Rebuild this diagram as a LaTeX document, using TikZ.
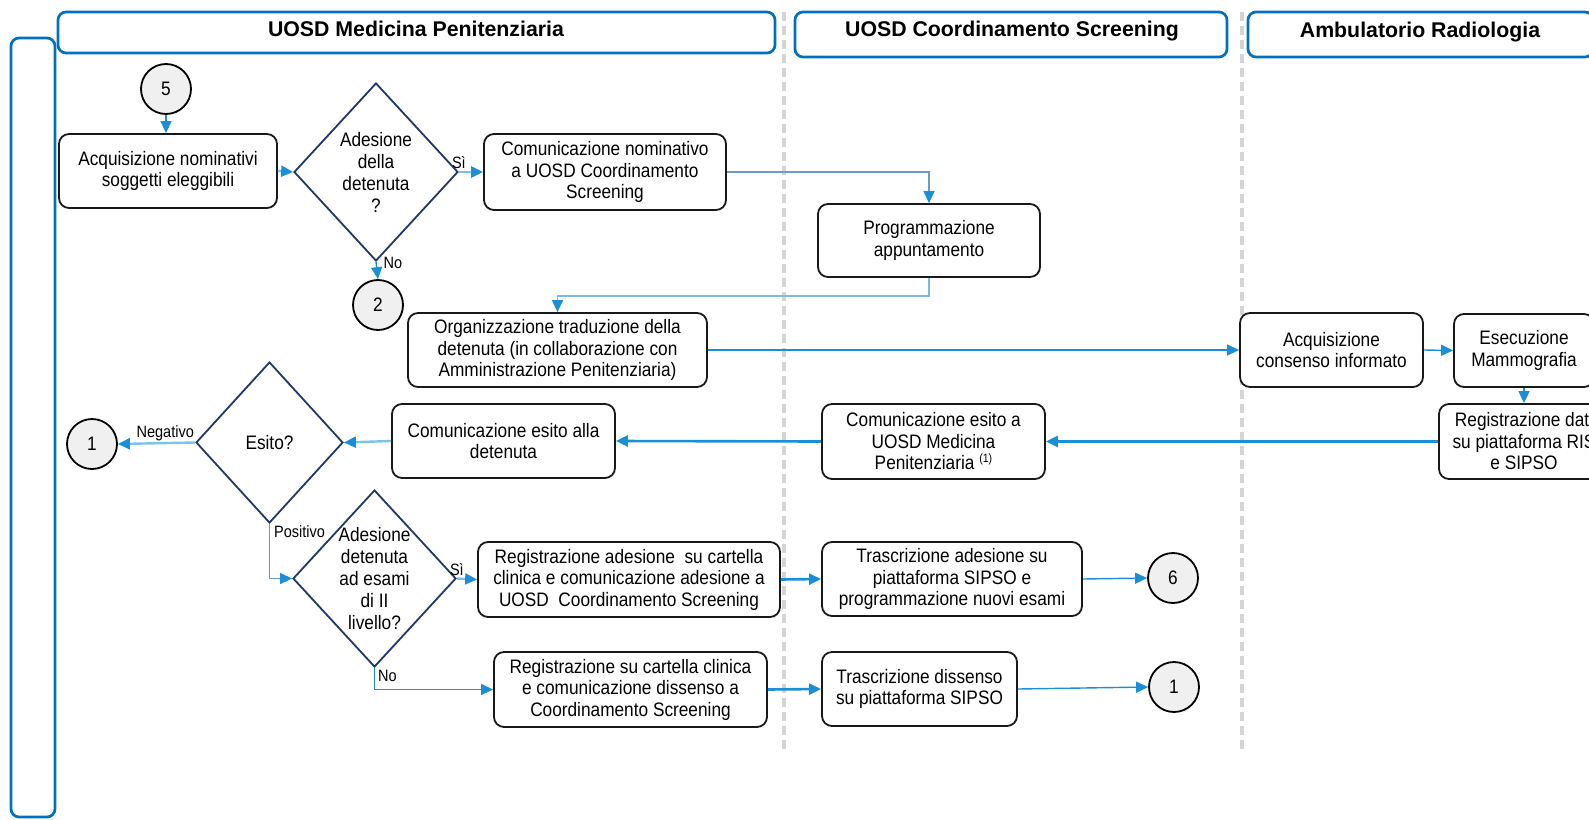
\documentclass[tikz,border=0pt]{standalone}
\usepackage{fontspec}
\setmainfont{Liberation Sans}
\newfontfamily\bodyfont{Liberation Sans}[FakeStretch=0.885]
\usetikzlibrary{arrows.meta,shapes.geometric}

\definecolor{hdrblue}{HTML}{0070C0}
\definecolor{navy}{HTML}{1F3864}
\definecolor{arrowblue}{HTML}{1A8FD8}
\definecolor{lightline}{HTML}{7CC3EC}
\definecolor{steelline}{HTML}{6A9CC0}
\definecolor{sepgray}{HTML}{D4D4D4}
\definecolor{circfill}{HTML}{F0F0F0}

\begin{document}
\begin{tikzpicture}[x=1pt,y=-1pt,
  lane/.style={draw=hdrblue, line width=2.7pt, rounded corners=8pt, inner sep=0pt},
  hdr/.style={font=\fontsize{21.3}{24}\selectfont\bfseries, inner sep=0pt},
  sep/.style={draw=sepgray, line width=3.3pt, dash pattern=on 9pt off 5pt},
  task/.style={draw=black!90, line width=1.8pt, rounded corners=10pt, fill=white,
    align=center, inner sep=0pt, font=\bodyfont\fontsize{19.5}{21.5}\selectfont},
  dec/.style={shape=diamond, draw=navy, line width=1.8pt, inner sep=0pt, fill=white},
  dectext/.style={align=center, inner sep=0pt, font=\bodyfont\fontsize{19.5}{22}\selectfont},
  jump/.style={circle, draw=black, line width=1.8pt, fill=circfill, minimum size=50pt,
    inner sep=0pt, font=\bodyfont\fontsize{19.5}{21}\selectfont},
  lbl/.style={inner sep=0pt, font=\bodyfont\fontsize{16.4}{18}\selectfont},
  flow/.style={draw=arrowblue, line width=1.4pt,
    -{Triangle[length=12pt,width=11pt,color=arrowblue]}},
  flowthick/.style={flow, line width=2.6pt},
  flowlight/.style={flow, draw=lightline, line width=2.4pt},
  flowsteel/.style={flow, draw=steelline, line width=1.3pt}
]
\useasboundingbox (0,0) rectangle (1589,819);
\clip (0,0) rectangle (1589,819);

% swimlane frame and headers
\draw[lane] (11,38) rectangle (55,817);
\node[lane, minimum width=717pt, minimum height=41pt] (h1) at (416.5,32.5) {};
\node[lane, minimum width=432pt, minimum height=45pt] (h2) at (1011,34.5) {};
\node[lane, minimum width=345pt, minimum height=45pt] (h3) at (1420.5,34.5) {};
\node[hdr, anchor=base] (h1t) at (416,36) {UOSD Medicina Penitenziaria};
\node[hdr, anchor=base] (h2t) at (1012,36) {UOSD Coordinamento Screening};
\node[hdr, anchor=base] (h3t) at (1420,37) {Ambulatorio Radiologia};

% lane separators
\draw[sep] (784,12) -- (784,752);
\draw[sep] (1242,12) -- (1242,752);

% connectors to other pages
\node[jump] (c5) at (166,89) {5};
\node[jump] (c2) at (378,305) {2};
\node[jump] (c1L) at (92,444) {1};
\node[jump] (c6) at (1173,578) {6};
\node[jump] (c1R) at (1174,687) {1};

% activities
\node[task, minimum width=218pt, minimum height=74pt] (acq) at (168,171)
  {Acquisizione nominativi\\soggetti eleggibili};
\node[task, minimum width=242pt, minimum height=76pt] (comnom) at (605,172)
  {Comunicazione nominativo\\a UOSD Coordinamento\\Screening};
\node[task, minimum width=222pt, minimum height=73pt] (prog) at (929,240.5)
  {Programmazione\\appuntamento};
\node[task, minimum width=299pt, minimum height=74pt] (org) at (557.5,350)
  {Organizzazione traduzione della\\detenuta (in collaborazione con\\Amministrazione Penitenziaria)};
\node[task, minimum width=183pt, minimum height=74pt] (cons) at (1331.5,350)
  {Acquisizione\\consenso informato};
\node[task, minimum width=140pt, minimum height=73pt] (esec) at (1524,350.5)
  {Esecuzione\\Mammografia};
\node[task, minimum width=170pt, minimum height=75pt] (regdati) at (1524,441.5)
  {Registrazione dati\\su piattaforma RIS\\e SIPSO};
\node[task, minimum width=223pt, minimum height=75pt] (comesa) at (933.5,441.5)
  {Comunicazione esito a\\UOSD Medicina\\Penitenziaria \raisebox{7pt}{\fontsize{12}{12}\selectfont(1)}};
\node[task, minimum width=223pt, minimum height=74pt] (comesalla) at (503.5,441)
  {Comunicazione esito alla\\detenuta};
\node[task, minimum width=302pt, minimum height=75pt] (regad) at (629,579.5)
  {Registrazione adesione~ su cartella\\clinica e comunicazione adesione a\\UOSD~ Coordinamento Screening};
\node[task, minimum width=260pt, minimum height=74pt] (trasad) at (952,579)
  {Trascrizione adesione su\\piattaforma SIPSO e\\programmazione nuovi esami};
\node[task, minimum width=273pt, minimum height=75pt] (regcart) at (630.5,689.5)
  {Registrazione su cartella clinica\\e comunicazione dissenso a\\Coordinamento Screening};
\node[task, minimum width=195pt, minimum height=74pt] (trasdis) at (919.5,689)
  {Trascrizione dissenso\\su piattaforma SIPSO};

% decisions
\node[dec, minimum width=164pt, minimum height=178pt] (d1) at (376,172) {};
\node[dectext] (d1t) at (d1) {Adesione\\della\\detenuta\\?};
\node[dec, minimum width=147pt, minimum height=161pt] (desito) at (269.5,442.5) {};
\node[dectext] (desitot) at (desito) {Esito?};
\node[dec, minimum width=163pt, minimum height=177pt] (d2) at (374.5,578.5) {};
\node[dectext] (d2t) at (d2) {Adesione\\detenuta\\ad esami\\di II\\livello?};

% flow
\draw[flow] (c5.south) -- (c5.south |- acq.north);
\draw[flowlight] (acq.east) -- (d1.west);
\draw[flowlight] (d1.east) -- node[lbl, pos=0, above=2pt] {Sì} (comnom.west);
\draw[flow] (d1.south) -- node[lbl, pos=0, anchor=west, xshift=7pt, yshift=-1pt] {No} (c2.north);
\draw[flowsteel] (comnom.east) -| (prog.north);
\draw[flowsteel, draw=lightline!80!steelline] (prog.south) -- ++(0,18) -| (org.north);
\draw[flow] (org.east) -- (cons.west);
\draw[flow] (cons.east) -- (esec.west);
\draw[flow] (esec.south) -- (regdati.north);
\draw[flowthick] (regdati.west) -- (comesa.east);
\draw[flowthick] (comesa.west) -- (comesalla.east);
\draw[flowlight] (comesalla.west) -- (desito.east);
\draw[flowlight] (desito.west) -- node[lbl, pos=0, anchor=south east, yshift=0pt] {Negativo} (c1L.east);
\draw[flowsteel] (desito.south) |- node[lbl, pos=0, anchor=north west, xshift=4pt, yshift=-1pt] {Positivo} (d2.west);
\draw[flowlight] (d2.east) -- node[lbl, pos=0, above=2pt] {Sì} (regad.west);
\draw[flowthick] (regad.east) -- (trasad.west);
\draw[flow] (trasad.east) -- (c6.west);
\draw[flow] (d2.south) |- node[lbl, pos=0, anchor=north west, xshift=3pt, yshift=-2pt] {No} (regcart.west);
\draw[flowthick] (regcart.east) -- (trasdis.west);
\draw[flow] (trasdis.east) -- (c1R.west);
\end{tikzpicture}
\end{document}
